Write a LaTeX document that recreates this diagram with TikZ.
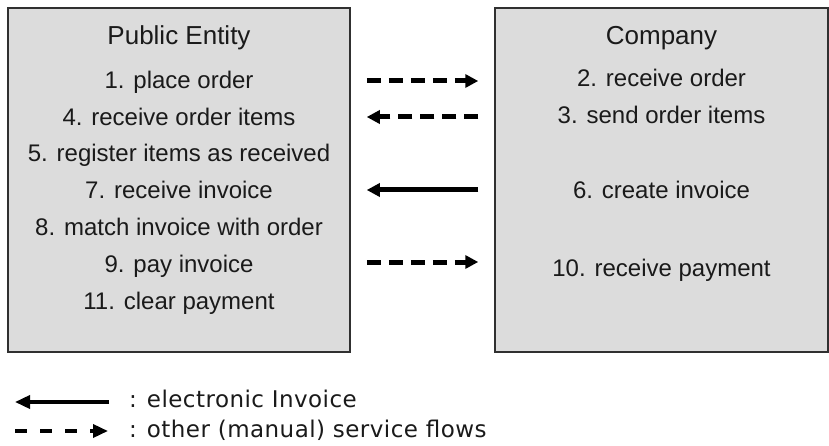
\documentclass[tikz,border=0pt]{standalone}
\usepackage{fontspec}
\setmainfont{Liberation Sans}
\newfontfamily\legendfont[LetterSpace=2]{DejaVu Sans}
\usetikzlibrary{arrows.meta}

\definecolor{boxfill}{HTML}{DCDCDC}
\definecolor{boxline}{HTML}{303030}
\definecolor{ink}{HTML}{1A1A1A}

\tikzset{
  party/.style={draw=boxline, fill=boxfill, line width=1.5pt, inner sep=0pt},
  partytitle/.style={anchor=base, inner sep=0pt, text=ink,
    font=\fontsize{26pt}{30pt}\selectfont},
  partyitem/.style={anchor=base, inner sep=0pt, text=ink,
    font=\fontsize{24pt}{28pt}\selectfont},
  eflow/.style={line width=5pt, -{Triangle[length=13pt,width=13pt]},
    shorten <=16pt, shorten >=16pt},
  mflow/.style={eflow, dash pattern=on 14pt off 8pt},
  legsolid/.style={line width=3.5pt, -{Triangle[length=15pt,width=13pt]}},
  legdash/.style={legsolid, dash pattern=on 12pt off 13pt},
  legtext/.style={anchor=base west, inner sep=0pt, text=ink,
    font=\legendfont\fontsize{23pt}{27pt}\selectfont},
}

\begin{document}
\begin{tikzpicture}[x=1pt,y=-1pt]
  \useasboundingbox (0,0) rectangle (829,446);

  % the two parties
  \node[party, minimum width=342pt, minimum height=344pt] (pe) at (179,180) {};
  \node[party, minimum width=333pt, minimum height=344pt] (co) at (661.5,180) {};

  % public entity steps
  \node[partytitle] (pet) at (179,45) {Public Entity};
  \node[partyitem] (p1)  at (179,89)  {1. place order};
  \node[partyitem] (p4)  at (179,126) {4. receive order items};
  \node[partyitem] (p5)  at (179,162) {5. register items as received};
  \node[partyitem] (p7)  at (179,199) {7. receive invoice};
  \node[partyitem] (p8)  at (179,236) {8. match invoice with order};
  \node[partyitem] (p9)  at (179,272) {9. pay invoice};
  \node[partyitem] (p11) at (179,309) {11. clear payment};

  % company steps
  \node[partytitle] (cot) at (661.5,45) {Company};
  \node[partyitem] (c2)  at (661.5,87)  {2. receive order};
  \node[partyitem] (c3)  at (661.5,124) {3. send order items};
  \node[partyitem] (c6)  at (661.5,199) {6. create invoice};
  \node[partyitem] (c10) at (661.5,276) {10. receive payment};

  % flows between the parties
  \coordinate (r1) at (0,81);
  \coordinate (r2) at (0,117);
  \coordinate (r3) at (0,190);
  \coordinate (r4) at (0,262);
  \draw[mflow] (pe.east |- r1) -- (co.west |- r1);
  \draw[mflow] (co.west |- r2) -- (pe.east |- r2);
  \draw[eflow] (co.west |- r3) -- (pe.east |- r3);
  \draw[mflow] (pe.east |- r4) -- (co.west |- r4);

  % legend
  \coordinate (ls1) at (15,402);
  \coordinate (ls2) at (109,402);
  \draw[legsolid] (ls2) -- (ls1);
  \coordinate (ld1) at (15,431);
  \coordinate (ld2) at (108,431);
  \draw[legdash] (ld1) -- (ld2);
  \node[legtext] (lt1) at (129,407) {:\hspace{10pt}electronic Invoice};
  \node[legtext] (lt2) at (129,437) {:\hspace{10pt}other (manual) service flows};
\end{tikzpicture}
\end{document}
